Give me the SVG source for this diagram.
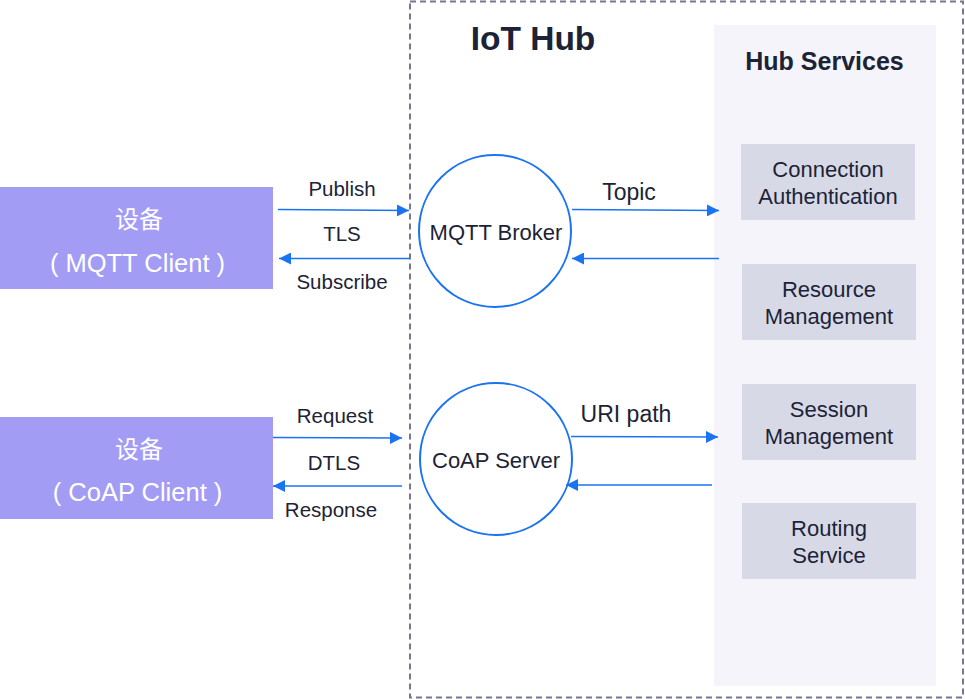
<svg xmlns="http://www.w3.org/2000/svg" width="965" height="699" viewBox="0 0 965 699">
<style>
.t{font-family:"Liberation Sans",Arial,"Noto Sans CJK SC",sans-serif;fill:#1c2336;text-anchor:middle}
.dev{fill:#a39cf5}
.dt{font-family:"Liberation Sans",Arial,"Noto Sans CJK SC",sans-serif;fill:#ffffff;text-anchor:middle;font-size:25.5px}
.cj{font-size:24px}
.svc{fill:#d8d9e7}
.st{font-size:22px}
.lb{font-size:20.5px}
.circ{fill:#ffffff;stroke:#1a73f0;stroke-width:2}
.ln{stroke:#1a73f0;stroke-width:1.3;fill:none;marker-end:url(#ah)}
</style>
<defs>
<marker id="ah" viewBox="0 0 10 10" refX="10" refY="5" markerWidth="12" markerHeight="12" markerUnits="userSpaceOnUse" orient="auto">
<path d="M0,0 L10,5 L0,10 z" fill="#1a73f0"/>
</marker>
</defs>
<rect width="965" height="699" fill="#ffffff"/>
<g id="iot-hub">
<rect x="410" y="1.5" width="553" height="696" fill="none" stroke="#77778f" stroke-width="2" stroke-dasharray="6,4"/>
<text class="t" x="533" y="50" font-size="33.5" font-weight="bold">IoT Hub</text>
</g>
<g id="hub-services">
<rect x="714" y="25" width="222" height="661" fill="#f5f4fa"/>
<text class="t" x="824.5" y="70" font-size="25" font-weight="bold">Hub Services</text>
</g>
<g id="conn-auth">
<rect class="svc" x="741" y="144" width="174" height="76"/>
<text class="t st" x="828" y="177">Connection</text>
<text class="t st" x="828" y="204">Authentication</text>
</g>
<g id="resource-mgmt">
<rect class="svc" x="742" y="264" width="174" height="76"/>
<text class="t st" x="829" y="297">Resource</text>
<text class="t st" x="829" y="324">Management</text>
</g>
<g id="session-mgmt">
<rect class="svc" x="742" y="384" width="174" height="76"/>
<text class="t st" x="829" y="417">Session</text>
<text class="t st" x="829" y="444">Management</text>
</g>
<g id="routing">
<rect class="svc" x="742" y="503" width="174" height="76"/>
<text class="t st" x="829" y="536">Routing</text>
<text class="t st" x="829" y="563">Service</text>
</g>
<g id="mqtt-client">
<rect class="dev" x="0" y="187" width="273" height="102"/>
<text class="dt cj" x="139" y="228">设备</text>
<text class="dt" x="137.5" y="272">( MQTT Client )</text>
</g>
<g id="coap-client">
<rect class="dev" x="0" y="417" width="273" height="102"/>
<text class="dt cj" x="139" y="458">设备</text>
<text class="dt" x="137.5" y="501">( CoAP Client )</text>
</g>
<g id="mqtt-broker">
<circle class="circ" cx="495" cy="231" r="76"/>
<text class="t" x="496" y="240" font-size="22">MQTT Broker</text>
</g>
<g id="coap-server">
<circle class="circ" cx="496" cy="459" r="76"/>
<text class="t" x="496" y="468" font-size="22">CoAP Server</text>
</g>
<g id="connectors">
<path class="ln" d="M278,209.5 L409,210.5"/>
<path class="ln" d="M410,258.5 L279,258.5"/>
<path class="ln" d="M572,209.5 L719,210.5"/>
<path class="ln" d="M719,258.5 L572,258.5"/>
<path class="ln" d="M273,437.5 L402,438"/>
<path class="ln" d="M402,486 L273,486"/>
<path class="ln" d="M571,436.5 L718,437"/>
<path class="ln" d="M712,485 L566,485"/>
<text class="t lb" x="342" y="196">Publish</text>
<text class="t lb" x="342" y="241">TLS</text>
<text class="t lb" x="342" y="289">Subscribe</text>
<text class="t" x="629" y="200" font-size="23">Topic</text>
<text class="t lb" x="335" y="423">Request</text>
<text class="t lb" x="334" y="470">DTLS</text>
<text class="t lb" x="331" y="517">Response</text>
<text class="t" x="626" y="422" font-size="23">URI path</text>
</g>
</svg>
